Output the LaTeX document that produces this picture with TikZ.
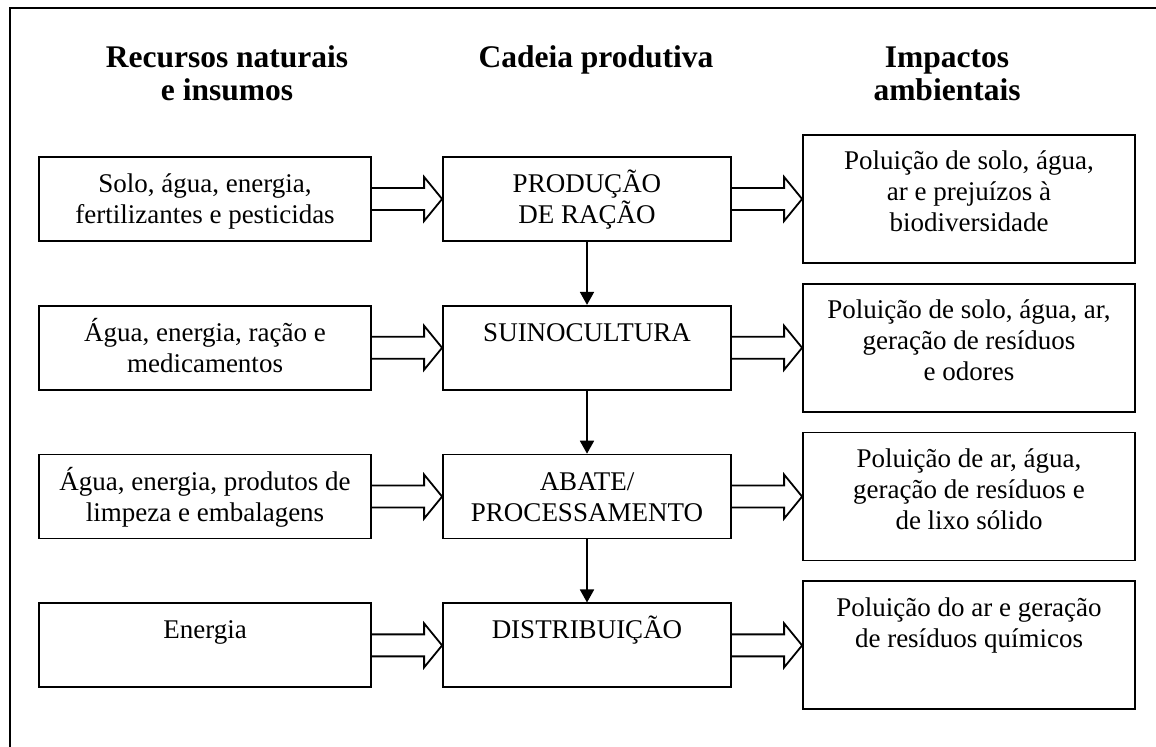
\documentclass[tikz,border=0pt]{standalone}
\usepackage{fontspec}
\setmainfont{Liberation Serif}
\usepackage{tikz}
\usetikzlibrary{arrows.meta,calc}
\usetikzlibrary{positioning}
\newcommand{\stagefont}{\fontsize{13.5pt}{15.5pt}\selectfont}
\newcommand{\hdrfont}{\bfseries\fontsize{15.75pt}{16.5pt}\selectfont}
\tikzset{
    stage/.style={
           rectangle,
           draw=black, line width=0.9pt,
           inner sep=0pt,
           text height=17.75pt,
           text depth=24.25pt,
           font=\stagefont,
           },
    impact/.style={
           stage,
           text height=17.5pt,
           text depth=46.5pt,
           },
    header/.style={
           anchor=base,
           inner sep=0pt,
           font=\hdrfont,
           },
    fat/.style={
           -,
           to path={
             ($(\tikztostart.east)+(0,5.5pt)$) -- ($(\tikztotarget.west)+(-9pt,5.5pt)$)
             -- ++(0,5.5pt) -- (\tikztotarget.west) -- ++(-9pt,-11pt) -- ++(0,5.5pt)
             -- ($(\tikztostart.east)+(0,-5.5pt)$)
             },
           },
}

\begin{document}
\begin{tikzpicture}[->,>={Triangle[length=6.5pt,width=7pt]},line width=0.9pt,x=0.5pt,y=-0.5pt]
 \useasboundingbox (0,0) rectangle (1156,747);
 \draw[-] (10,747) -- (10,8) -- (1156,8);

  \node[header] (HR) at (227,68)
 {\parbox[t]{160pt}{\centering Recursos naturais\\e insumos}};
  \node[header] (HC) at (596,68)
 {\parbox[t]{160pt}{\centering Cadeia produtiva}};
  \node[header] (HI) at (947,68)
 {\parbox[t]{160pt}{\centering Impactos\\ambientais}};

  \node[stage] (PR) at (587,199)
 {\parbox[t]{144pt}{\centering PRODUÇÃO\\DE RAÇÃO}};
  \node[stage,
 below of=PR,
 node distance=74.4pt] (SU)
 {\parbox[t]{144pt}{\centering SUINOCULTURA}};
  \node[stage,
 below of=SU,
 node distance=74.4pt] (AB)
 {\parbox[t]{144pt}{\centering ABATE/\\PROCESSAMENTO}};
  \node[stage,
 below of=AB,
 node distance=74.4pt] (DI)
 {\parbox[t]{144pt}{\centering DISTRIBUIÇÃO}};

  \node[stage,
 left of=PR,
 node distance=191pt] (R1)
 {\parbox[t]{166pt}{\centering Solo, água, energia,\\fertilizantes e pesticidas}};
  \node[stage,
 left of=SU,
 node distance=191pt] (R2)
 {\parbox[t]{166pt}{\centering Água, energia, ração e\\medicamentos}};
  \node[stage,
 left of=AB,
 node distance=191pt] (R3)
 {\parbox[t]{166pt}{\centering Água, energia, produtos de\\limpeza e embalagens}};
  \node[stage,
 left of=DI,
 node distance=191pt] (R4)
 {\parbox[t]{166pt}{\centering Energia}};

  \node[impact,
 right of=PR,
 node distance=191pt] (I1)
 {\parbox[t]{166pt}{\centering Poluição de solo, água,\\ar e prejuízos à\\biodiversidade}};
  \node[impact,
 right of=SU,
 node distance=191pt] (I2)
 {\parbox[t]{166pt}{\centering Poluição de solo, água, ar,\\geração de resíduos\\e odores}};
  \node[impact,
 right of=AB,
 node distance=191pt] (I3)
 {\parbox[t]{166pt}{\centering Poluição de ar, água,\\geração de resíduos e\\de lixo sólido}};
  \node[impact,
 right of=DI,
 node distance=191pt] (I4)
 {\parbox[t]{166pt}{\centering Poluição do ar e geração\\de resíduos químicos}};

 % draw the chain and the hollow arrows in and out of it
\path
  (PR) edge (SU)
  (SU) edge (AB)
  (AB) edge (DI)
  (R1) edge[fat] (PR)
  (R2) edge[fat] (SU)
  (R3) edge[fat] (AB)
  (R4) edge[fat] (DI)
  (PR) edge[fat] (I1)
  (SU) edge[fat] (I2)
  (AB) edge[fat] (I3)
  (DI) edge[fat] (I4)
 ;
\end{tikzpicture}
\end{document}
